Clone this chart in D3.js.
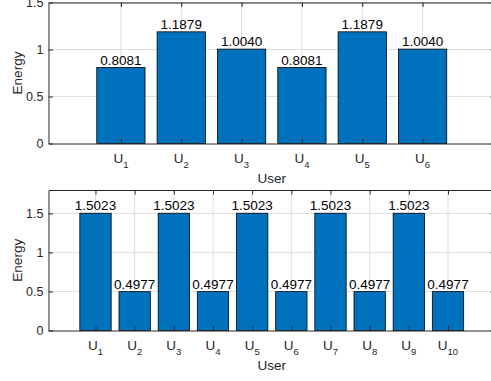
<!DOCTYPE html>
<html>
<head>
<meta charset="utf-8">
<script src="https://cdn.jsdelivr.net/npm/d3@7"></script>
<style>
  html, body { margin: 0; padding: 0; background: #ffffff; }
  svg { display: block; }
  text { font-family: "Liberation Sans", Arial, Helvetica, sans-serif; }
</style>
</head>
<body>
<svg id="chart" width="491" height="381"></svg>
<script>
// ---- data ----
const topUsers = ["1", "2", "3", "4", "5", "6"];
const topValues = [0.8081, 1.1879, 1.0040, 0.8081, 1.1879, 1.0040];
const bottomUsers = ["1", "2", "3", "4", "5", "6", "7", "8", "9", "10"];
const bottomValues = [1.5023, 0.4977, 1.5023, 0.4977, 1.5023, 0.4977, 1.5023, 0.4977, 1.5023, 0.4977];
const topYTicks = [0, 0.5, 1, 1.5];
const bottomYTicks = [0, 0.5, 1, 1.5];
const topYMax = 1.5;
const bottomYMax = 1.8;
const xLabel = "User";
const yLabel = "Energy";
const catPrefix = "U";

// ---- style ----
const barColor = "#0072BD";
const axisColor = "#262626";
const gridColor = "#dfdfdf";
const tickLen = 4.5;

const svg = d3.select("#chart");
const fmt = d3.format(".4f");

function drawPanel(users, values, yTicks, yMax, box) {
  const n = users.length;
  const x = d3.scaleLinear().domain([-0.2, n + 1.2]).range([box.left, box.right]);
  const y = d3.scaleLinear().domain([0, yMax]).range([box.bottom, box.top]);
  const g = svg.append("g");
  const idx = d3.range(1, n + 1);

  // grid
  g.append("g").selectAll("line.gx").data(idx).join("line")
    .attr("x1", d => x(d)).attr("x2", d => x(d))
    .attr("y1", box.top).attr("y2", box.bottom)
    .attr("stroke", gridColor).attr("stroke-width", 1);
  g.append("g").selectAll("line.gy").data(yTicks.filter(t => t > 0)).join("line")
    .attr("x1", box.left).attr("x2", box.right)
    .attr("y1", d => y(d)).attr("y2", d => y(d))
    .attr("stroke", gridColor).attr("stroke-width", 1);

  // bars
  const bw = 0.8;
  g.append("g").selectAll("rect").data(values).join("rect")
    .attr("x", (d, i) => x(i + 1 - bw / 2))
    .attr("width", (d, i) => x(i + 1 + bw / 2) - x(i + 1 - bw / 2))
    .attr("y", d => y(d))
    .attr("height", d => y(0) - y(d))
    .attr("fill", barColor)
    .attr("stroke", "#000")
    .attr("stroke-width", 0.8);

  // value labels
  g.append("g").selectAll("text").data(values).join("text")
    .attr("x", (d, i) => x(i + 1))
    .attr("y", d => y(d) - 3)
    .attr("text-anchor", "middle")
    .attr("font-size", 13.5)
    .attr("fill", "#000")
    .text(d => fmt(d));

  // axes
  const xb = d3.axisBottom(x).tickValues(idx).tickSizeInner(-tickLen).tickSizeOuter(0).tickPadding(7).tickFormat("");
  g.append("g").attr("transform", `translate(0,${box.bottom})`).call(xb);
  const xt = d3.axisTop(x).tickValues(idx).tickSizeInner(-tickLen).tickSizeOuter(0).tickFormat("");
  g.append("g").attr("transform", `translate(0,${box.top})`).call(xt);
  const yl = d3.axisLeft(y).tickValues(yTicks).tickSizeInner(-tickLen).tickSizeOuter(0).tickPadding(5)
    .tickFormat(d3.format("~g"));
  const gy = g.append("g").attr("transform", `translate(${box.left},0)`).call(yl);
  const yr = d3.axisRight(y).tickValues(yTicks).tickSizeInner(-tickLen).tickSizeOuter(0).tickFormat("");
  g.append("g").attr("transform", `translate(${box.right},0)`).call(yr);

  g.selectAll(".domain").attr("stroke", axisColor).attr("stroke-width", 1);
  g.selectAll(".tick line").attr("stroke", axisColor);
  gy.selectAll(".tick text").attr("font-size", 12.5).attr("fill", axisColor)
    .attr("font-family", "Liberation Sans, Arial, sans-serif");

  // x tick labels with subscripts
  const lab = g.append("g").selectAll("text").data(users).join("text")
    .attr("x", (d, i) => x(i + 1))
    .attr("y", box.bottom + 19.5)
    .attr("text-anchor", "middle")
    .attr("fill", axisColor)
    .attr("font-size", 13.5);
  lab.append("tspan").text(catPrefix);
  lab.append("tspan").attr("font-size", 9.5).attr("dy", 4.5).text(d => d);

  // axis labels
  g.append("text")
    .attr("x", (box.left + box.right) / 2)
    .attr("y", box.bottom + 39)
    .attr("text-anchor", "middle")
    .attr("font-size", 13.5)
    .attr("fill", axisColor)
    .text(xLabel);
  g.append("text")
    .attr("transform", `translate(${box.left - 27},${(box.top + box.bottom) / 2}) rotate(-90)`)
    .attr("text-anchor", "middle")
    .attr("font-size", 13.5)
    .attr("fill", axisColor)
    .text(yLabel);
}

drawPanel(topUsers, topValues, topYTicks, topYMax, { left: 48.5, right: 495, top: 2.5, bottom: 143.5 });
drawPanel(bottomUsers, bottomValues, bottomYTicks, bottomYMax, { left: 48.5, right: 495, top: 190, bottom: 330.5 });
</script>
</body>
</html>
